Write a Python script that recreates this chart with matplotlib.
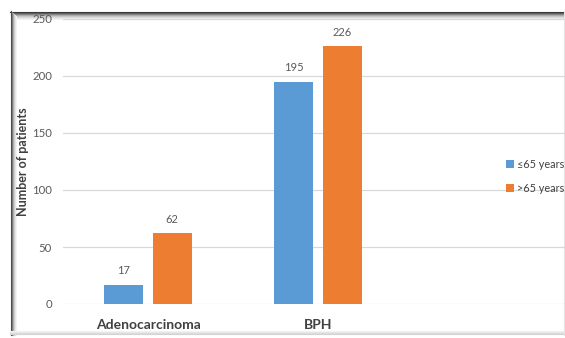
import matplotlib.pyplot as plt
from matplotlib.lines import Line2D
import numpy as np

plt.rcParams['font.family'] = ['Lato', 'DejaVu Sans']

categories = ['Adenocarcinoma', 'BPH']
young = [17, 195]   # ≤65 years
old = [62, 226]     # >65 years
series = ['≤65 years', '>65 years']
yticks = [0, 50, 100, 150, 200, 250]

blue = '#5B9BD5'
orange = '#ED7D31'
grey_txt = '#595959'

fig = plt.figure(figsize=(5.65, 3.38), dpi=100)
fig.patch.set_facecolor('white')
W, H = 565, 338

ax = fig.add_axes([63 / W, 34 / H, (W - 63) / W, 285 / H])
ax.patch.set_visible(False)
x = np.arange(len(categories))
bw = 0.226
off = 0.143
b1 = ax.bar(x - off, young, bw, color=blue, label=series[0], zorder=3)
b2 = ax.bar(x + off, old, bw, color=orange, label=series[1], zorder=3)

for bars, vals in [(b1, young), (b2, old)]:
    for b, v in zip(bars, vals):
        ax.annotate(str(v), (b.get_x() + b.get_width() / 2, v),
                    xytext=(0, 6), textcoords='offset points',
                    ha='center', va='bottom', fontsize=8, color=grey_txt)

ax.set_xlim(-0.5, 2.453)
ax.set_ylim(0, 250)
ax.set_yticks(yticks)
ax.set_xticks(x)
ax.set_xticklabels(categories, fontsize=10, fontweight='bold', color='#404040')
ax.tick_params(axis='x', length=0, pad=11)
ax.tick_params(axis='y', length=0, pad=8, labelsize=8.2, labelcolor=grey_txt)
ax.grid(axis='y', color='#D9D9D9', linewidth=0.9, zorder=0)
for s in ax.spines.values():
    s.set_visible(False)
ax.set_ylabel('Number of patients', fontsize=9, fontweight='bold', color='#404040')
ax.yaxis.set_label_coords(-34 / 502, 0.5)

leg = ax.legend(loc='center left', bbox_to_anchor=(443 / 502, 0.449), frameon=False,
                borderaxespad=0, borderpad=0,
                fontsize=7.8, handlelength=0.7, handleheight=0.7, handletextpad=0.35,
                labelspacing=1.2)
for t in leg.get_texts():
    t.set_color('#404040')

# shadowed frame around the chart
def hline(y, x0, x1, c, lw=1):
    fig.add_artist(Line2D([x0 / W, x1 / W], [1 - y / H, 1 - y / H], color=c, lw=lw,
                          transform=fig.transFigure, zorder=-1))

def vline(xp, y0, y1, c, lw=1):
    fig.add_artist(Line2D([xp / W, xp / W], [1 - y0 / H, 1 - y1 / H], color=c, lw=lw,
                          transform=fig.transFigure, zorder=-1))

top_shades = ['#3a3a3a', '#5a5a5a', '#858585', '#a8a8a8', '#c4c4c4', '#d9d9d9', '#e8e8e8', '#f3f3f3']
for i, c in enumerate(top_shades):
    hline(11.5 + i, 10 + i * 0.5, W, c, lw=0.8)
left_shades = ['#4a4a4a', '#7a7a7a', '#aaaaaa', '#cfcfcf', '#e6e6e6', '#f3f3f3']
for i, c in enumerate(left_shades):
    vline(10.5 + i, 11 + i, 335, c, lw=0.8)
for i, c in enumerate(['#f3f3f3', '#e8e8e8', '#dddddd', '#d3d3d3']):
    hline(331 + i, 10, W, c, lw=0.8)
vline(563.5, 11, 335, '#e4e4e4', lw=0.8)

fig.savefig('out.png', dpi=100, facecolor='white')
